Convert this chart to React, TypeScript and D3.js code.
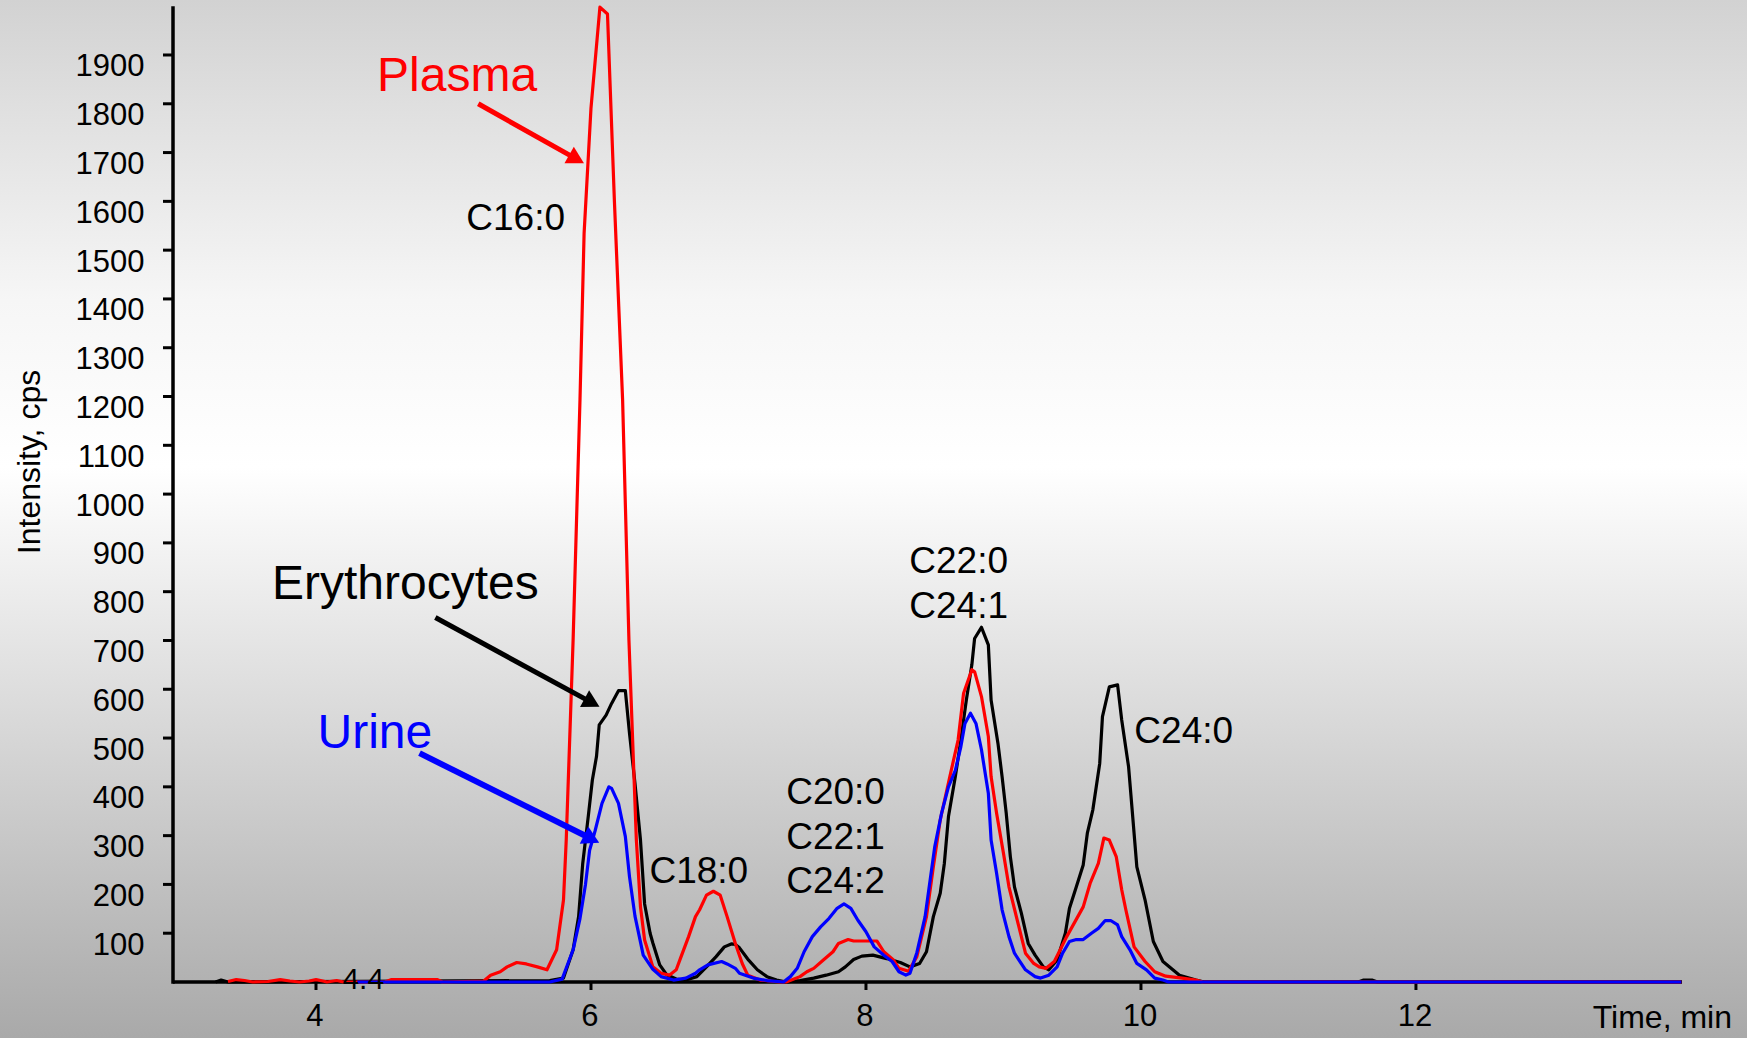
import React from 'react';
import * as d3 from 'd3';

const WIDTH = 1747;
const HEIGHT = 1038;
const FONT = '"Liberation Sans", Arial, Helvetica, sans-serif';

// chromatogram traces, [time in min, intensity in cps]
const plasma: [number, number][] = [
  [3.36, 1], [3.42, 5], [3.48, 3], [3.54, 0], [3.65, 1], [3.74, 5], [3.81, 2], [3.88, 0],
  [3.95, 2], [4.0, 5], [4.05, 2], [4.08, 0], [4.15, 3], [4.2, 0], [4.5, 0], [4.55, 5],
  [4.88, 5], [4.92, 0], [5.22, 2], [5.27, 14], [5.34, 21], [5.39, 31], [5.46, 40],
  [5.53, 37], [5.61, 31], [5.68, 25], [5.75, 66], [5.8, 168], [5.82, 291], [5.87, 701],
  [5.92, 1193], [5.95, 1535], [6.0, 1791], [6.065, 1998], [6.12, 1984], [6.17, 1603],
  [6.23, 1193], [6.276, 701], [6.33, 291], [6.36, 154], [6.39, 86], [6.45, 31], [6.51, 18],
  [6.57, 14], [6.62, 25], [6.65, 48], [6.71, 93], [6.76, 134], [6.79, 148], [6.84, 178],
  [6.89, 186], [6.94, 178], [6.99, 134], [7.05, 79], [7.1, 38], [7.14, 14], [7.23, 4],
  [7.37, 0], [7.42, 0], [7.52, 11], [7.57, 21], [7.62, 28], [7.69, 45], [7.76, 62],
  [7.8, 79], [7.87, 87], [7.91, 84], [8.08, 84], [8.13, 62], [8.2, 45], [8.24, 28],
  [8.31, 22], [8.37, 52], [8.44, 134], [8.49, 236], [8.54, 332], [8.61, 421], [8.67, 496],
  [8.71, 592], [8.77, 640], [8.79, 636], [8.84, 585], [8.89, 503], [8.91, 421], [8.95, 346],
  [9.0, 264], [9.04, 195], [9.1, 127], [9.16, 59], [9.22, 38], [9.26, 31], [9.31, 28],
  [9.37, 42], [9.46, 93], [9.58, 154], [9.63, 202], [9.69, 243], [9.73, 295], [9.77, 291],
  [9.82, 257], [9.86, 189], [9.89, 148], [9.95, 72], [10.03, 42], [10.1, 21], [10.18, 12],
  [10.3, 8], [10.4, 4], [10.45, 0], [13.93, 0],
];

const erythrocytes: [number, number][] = [
  [3.27, 0], [3.31, 4], [3.36, 0], [5.7, 3], [5.8, 8], [5.87, 66], [5.91, 134], [5.94, 243],
  [5.98, 339], [6.01, 414], [6.04, 462], [6.06, 527], [6.11, 547], [6.15, 571], [6.2, 597],
  [6.25, 597], [6.28, 510], [6.32, 407], [6.36, 291], [6.39, 160], [6.43, 100], [6.45, 80],
  [6.5, 35], [6.55, 15], [6.62, 6], [6.69, 4], [6.77, 11], [6.84, 31], [6.91, 52],
  [6.97, 72], [7.02, 78], [7.05, 77], [7.08, 70], [7.14, 47], [7.21, 25], [7.28, 11],
  [7.35, 4], [7.42, 0], [7.52, 3], [7.62, 8], [7.71, 14], [7.8, 21], [7.85, 31], [7.91, 46],
  [7.97, 53], [8.05, 55], [8.15, 48], [8.25, 40], [8.32, 31], [8.39, 38], [8.44, 62],
  [8.49, 134], [8.54, 182], [8.57, 243], [8.6, 339], [8.65, 421], [8.69, 496], [8.73, 578],
  [8.77, 650], [8.79, 704], [8.84, 727], [8.89, 691], [8.91, 578], [8.96, 489], [8.99, 421],
  [9.02, 346], [9.05, 257], [9.08, 195], [9.13, 141], [9.18, 79], [9.23, 55], [9.29, 31],
  [9.33, 25], [9.39, 45], [9.45, 100], [9.48, 151], [9.53, 195], [9.58, 240], [9.61, 305],
  [9.65, 353], [9.7, 448], [9.72, 544], [9.77, 605], [9.83, 609], [9.86, 537], [9.91, 441],
  [9.94, 339], [9.97, 236], [10.03, 168], [10.09, 83], [10.16, 42], [10.28, 14], [10.4, 4],
  [10.46, 0], [11.58, 0], [11.62, 4], [11.68, 4], [11.72, 0], [13.93, 0],
];

const urine: [number, number][] = [
  [4.3, 0], [5.7, 0], [5.79, 6], [5.87, 66], [5.92, 130], [5.96, 200], [5.99, 270],
  [6.03, 310], [6.08, 366], [6.13, 400], [6.15, 397], [6.2, 366], [6.25, 298], [6.28, 216],
  [6.32, 135], [6.38, 55], [6.45, 26], [6.51, 11], [6.6, 4], [6.69, 8], [6.76, 18],
  [6.79, 25], [6.85, 35], [6.95, 42], [6.99, 37], [7.05, 28], [7.08, 18], [7.18, 8],
  [7.28, 3], [7.4, 0], [7.45, 11], [7.5, 28], [7.55, 62], [7.61, 93], [7.67, 113],
  [7.73, 130], [7.79, 151], [7.84, 160], [7.89, 151], [7.94, 127], [8.0, 103], [8.06, 72],
  [8.13, 55], [8.19, 42], [8.24, 21], [8.29, 14], [8.32, 18], [8.37, 60], [8.43, 134],
  [8.47, 216], [8.5, 277], [8.55, 346], [8.6, 400], [8.65, 434], [8.69, 482], [8.72, 530],
  [8.76, 551], [8.8, 530], [8.84, 476], [8.89, 387], [8.91, 291], [8.95, 223], [8.99, 148],
  [9.04, 93], [9.08, 59], [9.16, 25], [9.23, 11], [9.27, 8], [9.33, 14], [9.39, 31],
  [9.43, 59], [9.48, 83], [9.53, 87], [9.58, 87], [9.64, 100], [9.69, 110], [9.74, 126],
  [9.78, 126], [9.83, 117], [9.86, 93], [9.92, 66], [9.97, 38], [10.04, 25], [10.1, 8],
  [10.16, 4], [10.2, 0], [13.93, 0],
];

const xTicks = [4, 6, 8, 10, 12];
const yTicks = [100, 200, 300, 400, 500, 600, 700, 800, 900, 1000, 1100, 1200, 1300, 1400, 1500, 1600, 1700, 1800, 1900];

// peak names, placed in data coordinates (anchor point / baseline of first line)
const peakLabels = [
  { lines: ['C16:0'], t: 5.811, v: 1541, anchor: 'end' },
  { lines: ['C18:0'], t: 6.425, v: 202, anchor: 'start' },
  { lines: ['C20:0', 'C22:1', 'C24:2'], t: 7.42, v: 364, anchor: 'start' },
  { lines: ['C22:0', 'C24:1'], t: 8.315, v: 838, anchor: 'start' },
  { lines: ['C24:0'], t: 9.952, v: 489, anchor: 'start' },
];

const sampleLabels = [
  { name: 'Plasma', color: '#ff0000', t: 4.444, v: 1827, from: [5.18, 1800], to: [5.949, 1678], w: 5 },
  { name: 'Erythrocytes', color: '#000000', t: 3.68, v: 786, from: [4.868, 747], to: [6.062, 564], w: 5 },
  { name: 'Urine', color: '#0000ff', t: 4.011, v: 479, from: [4.753, 469], to: [6.06, 285.5], w: 6 },
];

const traces = [
  { key: 'ery', data: erythrocytes, color: '#000000' },
  { key: 'plasma', data: plasma, color: '#ff0000' },
  { key: 'urine', data: urine, color: '#0000ff' },
];

export default function App() {
  const x = d3.scaleLinear().domain([2.96, 13.935]).range([173, 1682]);
  const y = d3.scaleLinear().domain([0, 2000]).range([982, 6.2]);

  const line = d3.line<[number, number]>()
    .x(d => x(d[0]))
    .y(d => y(d[1]));

  // arrow = shaft + triangle head
  const arrow = (from: number[], to: number[]) => {
    const x1 = x(from[0]), y1 = y(from[1]);
    const x2 = x(to[0]), y2 = y(to[1]);
    const a = Math.atan2(y2 - y1, x2 - x1);
    const len = 17, half = 9.5;
    const bx = x2 - len * Math.cos(a), by = y2 - len * Math.sin(a);
    const px = -Math.sin(a) * half, py = Math.cos(a) * half;
    return {
      shaft: [x1, y1, bx + Math.cos(a) * 2, by + Math.sin(a) * 2],
      head: `${x2},${y2} ${bx + px},${by + py} ${bx - px},${by - py}`,
    };
  };

  const [x0, x1] = x.range();
  const [yb, yt] = y.range();

  return (
    <svg width={WIDTH} height={HEIGHT} style={{ position: 'absolute', left: 0, top: 0 }}
      fontFamily={FONT}>
      <defs>
        <linearGradient id="bg" x1="0" y1="0" x2="0" y2="1">
          <stop offset="0" stopColor="#d2d2d2" />
          <stop offset="0.1" stopColor="#dfdfdf" />
          <stop offset="0.29" stopColor="#f6f6f6" />
          <stop offset="0.45" stopColor="#ffffff" />
          <stop offset="1" stopColor="#a9a9a9" />
        </linearGradient>
      </defs>
      <rect width={WIDTH} height={HEIGHT} fill="url(#bg)" />

      {/* axes */}
      <line x1={x0} x2={x1} y1={yb} y2={yb} stroke="#000" strokeWidth={3.5} />
      <line x1={x0} x2={x0} y1={yb + 1.7} y2={yt} stroke="#000" strokeWidth={3.5} />
      {yTicks.map(v => (
        <g key={v}>
          <line x1={x0 - 10} x2={x0} y1={y(v)} y2={y(v)} stroke="#000" strokeWidth={3} />
          <text x={144.5} y={y(v) + 21.5} fontSize={31} textAnchor="end">{v}</text>
        </g>
      ))}
      {xTicks.map(t => (
        <g key={t}>
          <line x1={x(t)} x2={x(t)} y1={yb} y2={yb + 8} stroke="#000" strokeWidth={3} />
          <text x={x(t) - 1} y={1026} fontSize={31} textAnchor="middle">{t}</text>
        </g>
      ))}
      <text transform={`translate(40,462) rotate(-90)`} fontSize={32} textAnchor="middle">Intensity, cps</text>
      <text x={1732} y={1028} fontSize={32} textAnchor="end">Time, min</text>

      {/* traces */}
      {traces.map(s => (
        <path key={s.key} d={line(s.data) || ''} fill="none" stroke={s.color}
          strokeWidth={3.2} strokeLinejoin="round" />
      ))}

      <text x={x(4.344)} y={y(-15)} fontSize={30} textAnchor="middle">4.4</text>

      {peakLabels.map(p => (
        <text key={p.lines[0]} x={x(p.t)} y={y(p.v)} fontSize={37} textAnchor={p.anchor}>
          {p.lines.map((l, i) => (
            <tspan key={l} x={x(p.t)} dy={i === 0 ? 0 : 44.5}>{l}</tspan>
          ))}
        </text>
      ))}

      {sampleLabels.map(s => {
        const a = arrow(s.from, s.to);
        return (
          <g key={s.name}>
            <text x={x(s.t)} y={y(s.v)} fontSize={48} fill={s.color}>{s.name}</text>
            <line x1={a.shaft[0]} y1={a.shaft[1]} x2={a.shaft[2]} y2={a.shaft[3]}
              stroke={s.color} strokeWidth={s.w} />
            <polygon points={a.head} fill={s.color} />
          </g>
        );
      })}
    </svg>
  );
}
